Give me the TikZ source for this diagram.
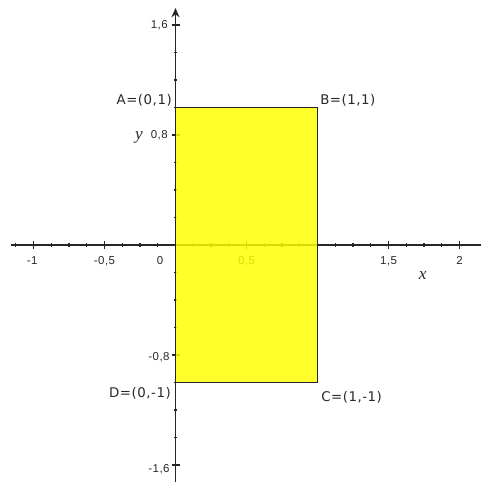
\documentclass[tikz,border=0pt]{standalone}
\usepackage{fontspec}
\usetikzlibrary{arrows.meta}
\newfontfamily\lblfont{DejaVu Sans}[LetterSpace=4]
\newfontfamily\tckfont{Liberation Sans}[LetterSpace=4]
\newfontfamily\varfont{Liberation Serif}
\definecolor{rectyellow}{RGB}{255,255,0}
\definecolor{txtgray}{RGB}{40,40,40}
\tikzset{
  axisline/.style={line width=1.1pt, draw=black!85},
  majortick/.style={line width=1pt, draw=black!85},
  minortick/.style={line width=1pt, draw=black!85},
  ticklabel/.style={font=\tckfont\fontsize{8.6}{9}\selectfont, text=txtgray, inner sep=0pt},
  ptlabel/.style={font=\lblfont\fontsize{10}{11}\selectfont, text=txtgray, inner sep=0pt},
  varlabel/.style={font=\varfont\itshape\fontsize{13}{14}\selectfont, text=txtgray, inner sep=0pt},
}
\begin{document}
\begin{tikzpicture}[x=106.5pt, y=103.125pt]
\useasboundingbox (-1.2359,-1.7236) rectangle (2.1514,1.7818);
% axes
\coordinate (xl) at (-1.155,0);
\coordinate (xr) at (2.1514,0);
\coordinate (yb) at (0,-1.7236);
\coordinate (yt) at (0,1.7236);
\draw[axisline] (xl) -- (xr);
\draw[axisline, -{Stealth[length=7pt,width=6pt]}] (yb) -- (yt);
% x ticks
\foreach \t in {-1.125,-1,...,2.0}{
  \draw[minortick] (\t,-1.4pt) -- (\t,1.4pt);
}
\foreach \t in {-1,-0.5,0.5,1,1.5,2}{
  \draw[majortick] (\t,-3pt) -- (\t,3pt);
}
% y ticks
\foreach \t in {-1.6,-1.4,...,1.61}{
  \draw[minortick] (-1.4pt,\t) -- (1.4pt,\t);
}
\foreach \t in {-1.6,-0.8,0.8,1.6}{
  \draw[majortick] (-3pt,\t) -- (3pt,\t);
}
% x tick labels
\node[ticklabel] (xm1) at (-1.01,-0.116) {-1};
\node[ticklabel] (xm05) at (-0.5,-0.116) {-0,5};
\node[ticklabel] (x0) at (-0.109,-0.116) {0};
\node[ticklabel] (x05) at (0.5,-0.116) {0,5};
\node[ticklabel] (x15) at (1.5,-0.116) {1,5};
\node[ticklabel] (x2) at (2,-0.116) {2};
% y tick labels
\node[ticklabel, anchor=east] (y16) at (-0.053,1.6) {1,6};
\node[ticklabel, anchor=east] (y08) at (-0.053,0.8) {0,8};
\node[ticklabel, anchor=east] (ym08) at (-0.04,-0.814) {-0,8};
\node[ticklabel, anchor=east] (ym16) at (-0.04,-1.629) {-1,6};
% axis names
\node[varlabel] (xname) at (1.741,-0.2255) {x};
\node[varlabel] (yname) at (-0.257,0.785) {y};
% rectangle
\coordinate (A) at (0,1);
\coordinate (B) at (1,1);
\coordinate (C) at (1,-1);
\coordinate (D) at (0,-1);
\fill[rectyellow, fill opacity=0.83] (A) -- (B) -- (C) -- (D) -- cycle;
\draw[line width=1.2pt, draw=black!85, line join=miter] (A) -- (B) -- (C) -- (D) -- cycle;
% point labels
\node[ptlabel, anchor=east] (Alab) at (-0.0246,1.0545) {A=(0,1)};
\node[ptlabel, anchor=west] (Blab) at (1.0176,1.0545) {B=(1,1)};
\node[ptlabel, anchor=west] (Clab) at (1.0246,-1.1055) {C=(1,-1)};
\node[ptlabel, anchor=east] (Dlab) at (-0.0317,-1.076) {D=(0,-1)};
\end{tikzpicture}
\end{document}
